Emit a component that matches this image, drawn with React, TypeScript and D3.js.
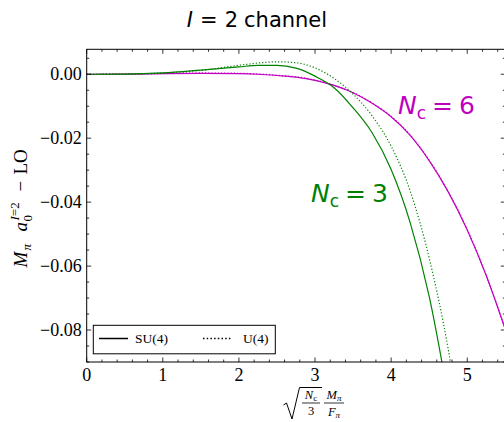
import React from 'react';
import * as d3 from 'd3';

// ---- data ----
const su4Nc3X = [0, 0.5, 1, 1.5, 2, 2.25, 2.5, 2.75, 3, 3.25, 3.5, 3.75, 4, 4.25, 4.5, 4.75];
const su4Nc3Y = [0, 0.00003, 0.0004, 0.0013, 0.0023, 0.0028, 0.0028, 0.0019, -0.0006, -0.0042, -0.0105, -0.0183, -0.0298, -0.0464, -0.0695, -0.101];

const u4Nc3X = [0, 0.5, 1, 1.5, 2, 2.25, 2.5, 2.75, 3, 3.25, 3.5, 3.75, 4, 4.25, 4.5, 4.75, 5];
const u4Nc3Y = [0, 0.00003, 0.0004, 0.0012, 0.0028, 0.0035, 0.0039, 0.0036, 0.002, -0.0013, -0.0062, -0.013, -0.0225, -0.0365, -0.0575, -0.086, -0.125];

const su4Nc6X = [0, 0.5, 1, 1.5, 2, 2.25, 2.5, 2.75, 3, 3.25, 3.5, 3.75, 4, 4.25, 4.5, 4.75, 5, 5.25, 5.5];
const su4Nc6Y = [0, 0.00002, 0.0002, 0.0003, 0.0002, 0.0, -0.0004, -0.0009, -0.0019, -0.0035, -0.0058, -0.0091, -0.0133, -0.0191, -0.027, -0.0368, -0.0487, -0.063, -0.0798];

const u4Nc6X = [0, 0.5, 1, 1.5, 2, 2.25, 2.5, 2.75, 3, 3.25, 3.5, 3.75, 4, 4.25, 4.5, 4.75, 5, 5.25, 5.5];
const u4Nc6Y = [0, 0.00002, 0.0002, 0.0004, 0.0003, 0.0001, -0.0003, -0.0008, -0.0018, -0.0034, -0.0057, -0.009, -0.0132, -0.019, -0.0269, -0.0367, -0.0486, -0.0629, -0.0797];

const xTicks = [0, 1, 2, 3, 4, 5];
const yTicks = [0, -0.02, -0.04, -0.06, -0.08];
const legendLabels = ['SU(4)', 'U(4)'];

const GREEN = '#008000';
const MAGENTA = '#bf00bf';
const SERIF = '"Liberation Serif", "DejaVu Serif", serif';
const SANS = '"DejaVu Sans", sans-serif';

const W = 504;
const H = 422;
const L = 86.7, R = 505.3, T = 49.3, B = 362;

export default function App() {
  const x = d3.scaleLinear().domain([0, 5.5]).range([L, R]);
  const y = d3.scaleLinear().domain([-0.09, 0.0078]).range([B, T]);

  const mk = (xs: number[], ys: number[]) =>
    d3.line<number>().x((_, i) => x(xs[i])).y((d) => y(d)).curve(d3.curveMonotoneX)(ys) || '';

  const xMinor = d3.range(0, 5.5001, 0.2).map((v) => +v.toFixed(2));
  const yMinor = d3.range(-0.09, 0.0079, 0.005).map((v) => +v.toFixed(4));

  const maj = 4.5, mnr = 2.5;
  const fmt = (v: number) => (v < 0 ? '\u2212' : '') + Math.abs(v).toFixed(2);

  return (
    <svg width={W} height={H} style={{ display: 'block', position: 'absolute', left: 0, top: 0, background: '#fff' }}>
      <defs>
        <clipPath id="plot">
          <rect x={L} y={T} width={R - L} height={B - T} />
        </clipPath>
      </defs>
      <rect x={0} y={0} width={W} height={H} fill="#fff" />

      {/* title */}
      <text x={257} y={27} fontFamily={SANS} fontSize={21} textAnchor="middle" fill="#000">
        <tspan fontStyle="italic">I</tspan>
        <tspan dx={7}>=</tspan>
        <tspan dx={7}>2</tspan>
        <tspan dx={6}>channel</tspan>
      </text>

      {/* curves */}
      <g clipPath="url(#plot)" fill="none">
        <path d={mk(su4Nc6X, su4Nc6Y)} stroke={MAGENTA} strokeWidth={1.2} />
        <path d={mk(u4Nc6X, u4Nc6Y)} stroke={MAGENTA} strokeWidth={1.2} strokeDasharray="1.2,2" />
        <path d={mk(su4Nc3X, su4Nc3Y)} stroke={GREEN} strokeWidth={1.2} />
        <path d={mk(u4Nc3X, u4Nc3Y)} stroke={GREEN} strokeWidth={1.2} strokeDasharray="1.2,2" />
      </g>

      {/* ticks */}
      <g stroke="#000" strokeWidth={0.8}>
        {xMinor.map((v) => {
          const isMaj = Math.abs(v - Math.round(v)) < 1e-6;
          const len = isMaj ? maj : mnr;
          return (
            <g key={'xm' + v}>
              <line x1={x(v)} x2={x(v)} y1={B} y2={B - len} />
              <line x1={x(v)} x2={x(v)} y1={T} y2={T + len} />
            </g>
          );
        })}
        {yMinor.map((v) => {
          const isMaj = Math.abs(v / 0.02 - Math.round(v / 0.02)) < 1e-6;
          const len = isMaj ? maj : mnr;
          return (
            <g key={'ym' + v}>
              <line x1={L} x2={L + len} y1={y(v)} y2={y(v)} />
              <line x1={R} x2={R - len} y1={y(v)} y2={y(v)} />
            </g>
          );
        })}
      </g>

      {/* frame */}
      <rect x={L} y={T} width={R - L} height={B - T} fill="none" stroke="#000" strokeWidth={1} />

      {/* tick labels */}
      <g fontFamily={SERIF} fontSize={18} fill="#000">
        {xTicks.map((v) => (
          <text key={'xt' + v} x={x(v)} y={B + 19} textAnchor="middle">{v}</text>
        ))}
        {yTicks.map((v) => (
          <text key={'yt' + v} x={L - 5} y={y(v) + 6} textAnchor="end">{fmt(v)}</text>
        ))}
      </g>

      {/* annotations */}
      <text x={398} y={114} fontFamily={SANS} fontSize={25} fill={MAGENTA}>
        <tspan fontStyle="italic">N</tspan>
        <tspan fontSize={17} dy={5}>c</tspan>
        <tspan dy={-5} dx={6}>=</tspan>
        <tspan dx={6}>6</tspan>
      </text>
      <text x={311} y={202} fontFamily={SANS} fontSize={25} fill={GREEN}>
        <tspan fontStyle="italic">N</tspan>
        <tspan fontSize={17} dy={5}>c</tspan>
        <tspan dy={-5} dx={6}>=</tspan>
        <tspan dx={6}>3</tspan>
      </text>

      {/* legend */}
      <rect x={93.3} y={325.3} width={182} height={28.5} fill="#fff" stroke="#000" strokeWidth={1} />
      <line x1={99} x2={128} y1={338.5} y2={338.5} stroke="#000" strokeWidth={1.5} />
      <text x={135} y={343} fontFamily={SERIF} fontSize={13.5}>{legendLabels[0]}</text>
      <line x1={203} x2={231} y1={338.5} y2={338.5} stroke="#000" strokeWidth={1.5} strokeDasharray="1.5,2.2" />
      <text x={243} y={343} fontFamily={SERIF} fontSize={13.5}>{legendLabels[1]}</text>

      {/* y label */}
      <g transform="translate(27,209.5) rotate(-90)" fontFamily={SERIF} fill="#000">
        <text x={-58} y={0} fontSize={19} fontStyle="italic">M</text>
        <text x={-41} y={4} fontSize={13} fontStyle="italic">π</text>
        <text x={-22} y={0} fontSize={19} fontStyle="italic">a</text>
        <text x={-11} y={-8} fontSize={13} fontStyle="italic">I<tspan fontStyle="normal">=2</tspan></text>
        <text x={-12} y={5} fontSize={13}>0</text>
        <text x={18} y={0} fontSize={19}>{'\u2212'}</text>
        <text x={35} y={0} fontSize={19}>LO</text>
      </g>

      {/* x label */}
      <g fontFamily={SERIF} fill="#000">
        <path d="M283.5,405 L286.5,403 L292,419 L299.5,387.5 L322,387.5" fill="none" stroke="#000" strokeWidth={1} />
        <text x={311} y={399} fontSize={12.5} textAnchor="middle" fontStyle="italic">N<tspan fontSize={9} dy={2} fontStyle="normal">c</tspan></text>
        <line x1={302} x2={320} y1={403} y2={403} stroke="#000" strokeWidth={0.8} />
        <text x={311} y={415} fontSize={12.5} textAnchor="middle">3</text>
        <text x={334} y={399} fontSize={12.5} textAnchor="middle" fontStyle="italic">M<tspan fontSize={9} dy={2}>π</tspan></text>
        <line x1={324} x2={344} y1={403} y2={403} stroke="#000" strokeWidth={0.8} />
        <text x={334} y={416} fontSize={12.5} textAnchor="middle" fontStyle="italic">F<tspan fontSize={9} dy={2}>π</tspan></text>
      </g>
    </svg>
  );
}
